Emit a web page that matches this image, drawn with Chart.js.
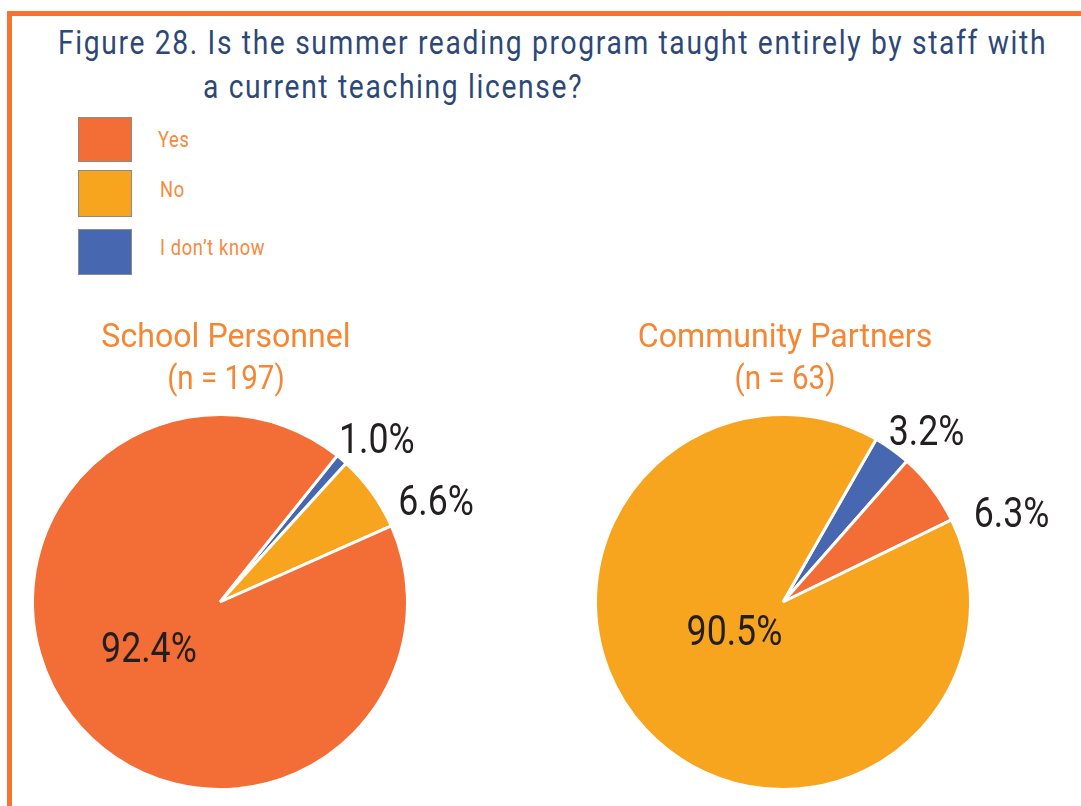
<!DOCTYPE html>
<html>
<head>
<meta charset="utf-8">
<title>Figure 28</title>
<script src="https://cdn.jsdelivr.net/npm/chart.js@4"></script>
<style>
  body { margin: 0; width: 1081px; height: 806px; background: #fff; overflow: hidden; position: relative;
         font-family: Roboto, 'Liberation Sans', sans-serif; }
  .frame { position: absolute; left: 7px; top: 11px; right: 0; bottom: 0;
           border-top: 5px solid #f47432; border-left: 5px solid #f47432; }
  .title { position: absolute; font-size: 34px; line-height: 34px; color: #2d4877; white-space: nowrap;
           letter-spacing: 2px; transform: scaleX(0.83); transform-origin: left top; }
  .box { position: absolute; left: 78px; width: 52px; border: 1px solid #8e8a86; }
  .lbl { position: absolute; font-size: 22px; line-height: 22px; color: #f7883c; white-space: nowrap;
         letter-spacing: 0.8px; transform: scaleX(0.83); transform-origin: left top; }
  canvas { position: absolute; }
</style>
</head>
<body>
<div class="frame"></div>
<div class="title" style="left:58px; top:25px;">Figure 28. Is the summer reading program taught entirely by staff with</div>
<div class="title" style="left:203px; top:69px;">a current teaching license?</div>

<div class="box" style="top:117px; height:43px; background:#f36d36;"></div>
<div class="lbl" style="left:158px; top:129px;">Yes</div>
<div class="box" style="top:170px; height:45px; background:#f7a41f;"></div>
<div class="lbl" style="left:160px; top:179px;">No</div>
<div class="box" style="top:229px; height:44px; background:#4767b1;"></div>
<div class="lbl" style="left:160px; top:237px;">I don’t know</div>

<canvas id="school" width="540" height="516" style="left:0; top:290px;"></canvas>
<canvas id="partners" width="541" height="516" style="left:540px; top:290px;"></canvas>

<script>
// data
const categories = ['Yes', 'No', 'I don’t know'];
const catColors = ['#f36d36', '#f7a41f', '#4767b1'];
const schoolValues = [92.4, 6.6, 1.0];
const partnerValues = [6.3, 90.5, 3.2];
const groupNames = ['School Personnel', 'Community Partners'];
const groupN = [197, 63];

// clockwise slice order as printed (indexes into categories)
const schoolOrder = [2, 1, 0];
const partnerOrder = [2, 0, 1];

// condensed look: squeeze the text horizontally
var narrowText = function (ctx, txt, x, y, sx) {
  ctx.save();
  ctx.translate(x, y);
  ctx.scale(sx, 1);
  ctx.fillText(txt, 0, 0);
  ctx.restore();
};

// draws % labels and the group title above each pie
const pieText = {
  id: 'pieText',
  afterDatasetsDraw(chart, args, opts) {
    const ctx = chart.ctx;
    const arcs = chart.getDatasetMeta(0).data;
    const vals = chart.data.datasets[0].data;
    ctx.save();
    ctx.textAlign = 'center';
    ctx.textBaseline = 'alphabetic';
    ctx.fillStyle = '#231f20';
    ctx.font = '43px Roboto';
    let cx = 0, cy = 0, R = 0;
    arcs.forEach(function (arc, i) {
      const p = arc.getProps(['x', 'y', 'startAngle', 'endAngle', 'outerRadius'], true);
      cx = p.x; cy = p.y; R = p.outerRadius;
      const a = (p.startAngle + p.endAngle) / 2 + opts.nudge[i] * Math.PI / 180;
      const r = R * opts.dist[i];
      narrowText(ctx, vals[i].toFixed(1) + '%', cx + Math.cos(a) * r, cy + Math.sin(a) * r + 15, 0.83);
    });
    ctx.fillStyle = '#f58634';
    ctx.font = '34px Roboto';
    narrowText(ctx, opts.title[0], cx + opts.titleShift, cy - R - 68, 0.945);
    narrowText(ctx, opts.title[1], cx + opts.titleShift, cy - R - 26, 0.87);
    ctx.restore();
  }
};

var makePie = function (id, values, order, rotation, padding, text) {
  const ctx = document.getElementById(id).getContext('2d');
  return new Chart(ctx, {
    type: 'pie',
    data: {
      labels: order.map(i => categories[i]),
      datasets: [{
        data: order.map(i => values[i]),
        backgroundColor: order.map(i => catColors[i]),
        borderColor: '#ffffff',
        borderWidth: 3
      }]
    },
    options: {
      responsive: false,
      animation: false,
      rotation: rotation,
      layout: { padding: padding },
      plugins: {
        legend: { display: false },
        tooltip: { enabled: false },
        pieText: text
      }
    },
    plugins: [pieText]
  });
};

makePie('school', schoolValues, schoolOrder, 38.7,
  { left: 31, top: 123, right: 131, bottom: 15 },
  { nudge: [3.2, 10.5, 5], dist: [1.21, 1.275, 0.45],
    title: [groupNames[0], '(n = ' + groupN[0] + ')'], titleShift: 6 });

makePie('partners', partnerValues, partnerOrder, 29.8,
  { left: 54, top: 123, right: 109, bottom: 15 },
  { nudge: [4.3, 15.9, 12.8], dist: [1.195, 1.31, 0.30],
    title: [groupNames[1], '(n = ' + groupN[1] + ')'], titleShift: 2 });
</script>
</body>
</html>
